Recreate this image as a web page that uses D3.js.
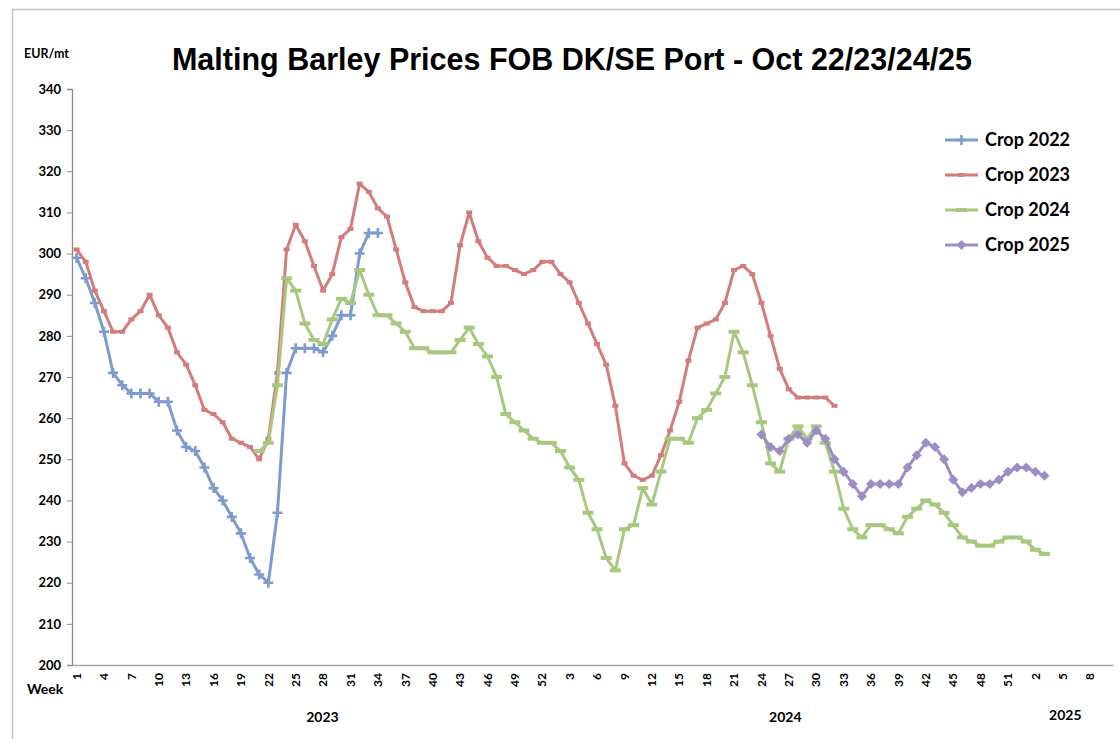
<!DOCTYPE html>
<html>
<head>
<meta charset="utf-8">
<script src="https://cdn.jsdelivr.net/npm/d3@7"></script>
<style>
  html, body { margin: 0; padding: 0; background: #fff; }
  svg { display: block; font-family: Lato, "Open Sans", sans-serif; }
</style>
</head>
<body>
<svg id="chart" width="1120" height="739"></svg>
<script>
// categories: weeks per year on the x axis
const years = ["2023", "2024", "2025"];
const weeksInYear = [52, 52, 10];

// y axis ticks
const yTicks = [200, 210, 220, 230, 240, 250, 260, 270, 280, 290, 300, 310, 320, 330, 340];

// series (values start at the given category index)
const crop2022Start = 0;
const crop2022 = [299, 294, 288, 281, 271, 268, 266, 266, 266, 264, 264, 257, 253, 252, 248, 243, 240, 236, 232, 226,
  222, 220, 237, 271, 277, 277, 277, 276, 280, 285, 285, 300, 305, 305];

const crop2023Start = 0;
const crop2023 = [301, 298, 291, 286, 281, 281, 284, 286, 290, 285, 282, 276, 273, 268, 262, 261, 259, 255, 254, 253,
  250, 255, 271, 301, 307, 303, 297, 291, 295, 304, 306, 317, 315, 311, 309, 301, 293, 287, 286, 286,
  286, 288, 302, 310, 303, 299, 297, 297, 296, 295, 296, 298, 298, 295, 293, 288, 283, 278, 273, 263,
  249, 246, 245, 246, 251, 257, 264, 274, 282, 283, 284, 288, 296, 297, 295, 288, 280, 272, 267, 265,
  265, 265, 265, 263];

const crop2024Start = 20;
const crop2024 = [252, 254, 268, 294, 291, 283, 279, 278, 284, 289, 288, 296, 290, 285, 285, 283, 281, 277, 277, 276,
  276, 276, 279, 282, 278, 275, 270, 261, 259, 257, 255, 254, 254, 252, 248, 245, 237, 233, 226, 223,
  233, 234, 243, 239, 247, 255, 255, 254, 260, 262, 266, 270, 281, 276, 268, 259, 249, 247, 255, 258,
  255, 258, 254, 247, 238, 233, 231, 234, 234, 233, 232, 236, 238, 240, 239, 237, 234, 231, 230, 229,
  229, 230, 231, 231, 230, 228, 227];

const crop2025Start = 75;
const crop2025 = [256, 253, 252, 255, 256, 254, 257, 255, 250, 247, 244, 241, 244, 244, 244, 244, 248, 251, 254, 253,
  250, 245, 242, 243, 244, 244, 245, 247, 248, 248, 247, 246];

const seriesNames = ["Crop 2022", "Crop 2023", "Crop 2024", "Crop 2025"];
const seriesColors = ["#7e9bcd", "#d27c7b", "#a9c87f", "#9d8dc4"];
const seriesMarkers = ["plus", "smallDash", "dash", "diamond"];

const series = [
  { name: seriesNames[0], start: crop2022Start, values: crop2022 },
  { name: seriesNames[1], start: crop2023Start, values: crop2023 },
  { name: seriesNames[2], start: crop2024Start, values: crop2024 },
  { name: seriesNames[3], start: crop2025Start, values: crop2025 }
].map((s, k) => ({
  ...s,
  color: seriesColors[k],
  marker: seriesMarkers[k],
  points: s.values.map((v, j) => ({ i: s.start + j, v }))
}));

// build category list
const categories = [];
years.forEach((yr, k) => {
  for (let w = 1; w <= weeksInYear[k]; w++) categories.push({ year: yr, week: w });
});

const svg = d3.select("#chart");
const plotLeft = 72, plotRight = 1113, plotTop = 89, plotBottom = 665;

// outer chart border
svg.append("path")
  .attr("d", `M12.5,739 L12.5,9.5 L1120,9.5`)
  .attr("fill", "none")
  .attr("stroke", "#c4c4c4")
  .attr("stroke-width", 1.5);

const x = d3.scaleBand()
  .domain(d3.range(categories.length))
  .range([plotLeft, plotRight])
  .padding(0);

const y = d3.scaleLinear()
  .domain([200, 340])
  .range([plotBottom, plotTop]);

const cx = i => x(i) + x.bandwidth() / 2;

// title
svg.append("text")
  .attr("x", 572)
  .attr("y", 70)
  .attr("text-anchor", "middle")
  .style("font-family", "'Liberation Sans', Arial, sans-serif")
  .style("font-weight", "bold")
  .style("font-size", "30.5px")
  .attr("fill", "#000")
  .text("Malting Barley Prices FOB DK/SE Port - Oct 22/23/24/25");

svg.append("text")
  .attr("x", 24)
  .attr("y", 58)
  .style("font-weight", "bold")
  .style("font-size", "12.5px")
  .text("EUR/mt");

// y axis
const yAxis = svg.append("g")
  .attr("transform", `translate(${plotLeft},0)`)
  .call(d3.axisLeft(y).tickValues(yTicks).tickSize(5).tickPadding(6).tickFormat(d3.format("d")));
yAxis.select(".domain").attr("stroke", "#8c8c8c").attr("stroke-width", 1.3);
yAxis.selectAll(".tick line").attr("stroke", "#8c8c8c");
yAxis.selectAll(".tick text")
  .style("font-family", "Lato, sans-serif")
  .style("font-weight", "bold")
  .style("font-size", "13px")
  .attr("fill", "#000");

// x axis
const xAxis = svg.append("g")
  .attr("transform", `translate(0,${plotBottom})`)
  .call(d3.axisBottom(x)
    .tickValues(d3.range(categories.length).filter(i => i % 3 === 0))
    .tickSize(0)
    .tickFormat(i => categories[i].week));
xAxis.select(".domain").attr("stroke", "#a6a6a6").attr("stroke-width", 1.5);
xAxis.selectAll(".tick text")
  .attr("transform", "rotate(-90)")
  .attr("x", -8)
  .attr("y", 0)
  .attr("dy", "0.35em")
  .attr("text-anchor", "end")
  .style("font-family", "Lato, sans-serif")
  .style("font-weight", "bold")
  .style("font-size", "12px")
  .attr("fill", "#000");

svg.append("text")
  .attr("x", 27)
  .attr("y", 694)
  .style("font-weight", "bold")
  .style("font-size", "14px")
  .text("Week");

// year labels centred under their weeks
const yearShift = [13, 1, -2];
let offset = 0;
years.forEach((yr, k) => {
  const first = offset, last = offset + weeksInYear[k] - 1;
  offset += weeksInYear[k];
  svg.append("text")
    .attr("x", (cx(first) + cx(last)) / 2 + yearShift[k])
    .attr("y", k === 2 ? 720 : 722)
    .attr("text-anchor", "middle")
    .style("font-weight", "bold")
    .style("font-size", "14px")
    .text(yr);
});

// markers
function drawMarker(g, type, color) {
  if (type === "plus") {
    g.append("path").attr("d", "M-5,0H5M0,-5V5")
      .attr("stroke", color).attr("stroke-width", 2.6).attr("fill", "none");
  } else if (type === "smallDash") {
    g.append("rect").attr("x", -3).attr("y", -2).attr("width", 6).attr("height", 4).attr("fill", color);
  } else if (type === "dash") {
    g.append("rect").attr("x", -5.5).attr("y", -2).attr("width", 11).attr("height", 4).attr("fill", color);
  } else if (type === "diamond") {
    g.append("path").attr("d", "M0,-5L5,0L0,5L-5,0Z").attr("fill", color);
  }
}

const line = d3.line()
  .x(d => cx(d.i))
  .y(d => y(d.v));

const plot = svg.append("g");
series.forEach(s => {
  plot.append("path")
    .datum(s.points)
    .attr("d", line)
    .attr("fill", "none")
    .attr("stroke", s.color)
    .attr("stroke-width", 3)
    .attr("stroke-linejoin", "round");

  plot.append("g")
    .selectAll("g")
    .data(s.points)
    .enter()
    .append("g")
    .attr("transform", d => `translate(${cx(d.i)},${y(d.v)})`)
    .each(function () { drawMarker(d3.select(this), s.marker, s.color); });
});

// legend
const legend = svg.append("g");
const legendY = [140, 175, 210, 245];
series.forEach((s, k) => {
  const row = legend.append("g").attr("transform", `translate(945,${legendY[k]})`);
  row.append("line")
    .attr("x1", 0).attr("x2", 33)
    .attr("stroke", s.color).attr("stroke-width", 3);
  drawMarker(row.append("g").attr("transform", "translate(16.5,0)"), s.marker, s.color);
  row.append("text")
    .attr("x", 40)
    .attr("y", 6)
    .style("font-weight", "bold")
    .style("font-size", "18px")
    .attr("fill", "#000")
    .text(s.name);
});
</script>
</body>
</html>
